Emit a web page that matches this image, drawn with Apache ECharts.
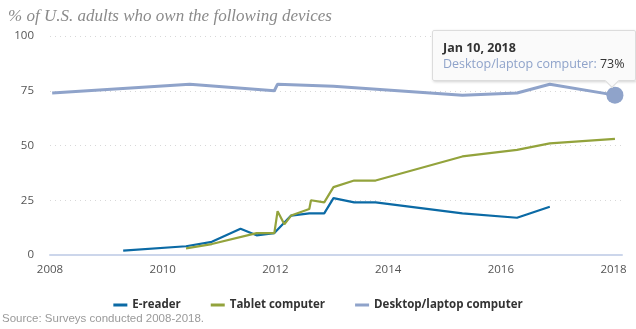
<!DOCTYPE html>
<html>
<head>
<meta charset="utf-8">
<script src="https://cdn.jsdelivr.net/npm/echarts@6/dist/echarts.min.js"></script>
<style>
html,body{margin:0;padding:0;background:#fff;}
#chart{width:636px;height:329px;}
</style>
</head>
<body>
<div id="chart"></div>
<script>
const titleText = '% of U.S. adults who own the following devices';
const sourceText = 'Source: Surveys conducted 2008-2018.';
const seriesNames = ['E-reader', 'Tablet computer', 'Desktop/laptop computer'];
const yTicks = [0, 25, 50, 75, 100];
const xTickYears = [2008, 2010, 2012, 2014, 2016, 2018];

const ereaderDates = ['2009-04-20','2010-06-01','2010-11-15','2011-05-20','2011-09-01','2011-12-25','2012-04-12','2012-08-08','2012-11-13','2013-01-12','2013-05-26','2013-10-12','2015-04-27','2016-04-15','2016-11-14'];
const ereaderValues = [2, 4, 6, 12, 9, 10, 18, 19, 19, 26, 24, 24, 19, 17, 22];

const tabletDates = ['2010-06-01','2010-11-15','2011-09-01','2011-12-25','2012-01-15','2012-02-28','2012-04-12','2012-08-08','2012-08-19','2012-11-13','2013-01-12','2013-05-26','2013-10-12','2015-04-27','2016-04-15','2016-11-14','2018-01-10'];
const tabletValues = [3, 5, 10, 10, 20, 14, 18, 21, 25, 24, 31, 34, 34, 45, 48, 51, 53];

const desktopDates = ['2008-01-15','2010-06-25','2011-12-25','2012-01-15','2013-01-12','2015-04-27','2016-04-15','2016-11-14','2018-01-10'];
const desktopValues = [74, 78, 75, 78, 77, 73, 74, 78, 73];

const colors = ['#0b6aa5', '#93a33c', '#8fa3ca'];

function decYear(s){
  const d = new Date(s + 'T00:00:00Z');
  const y = d.getUTCFullYear();
  const start = Date.UTC(y,0,1), end = Date.UTC(y+1,0,1);
  return y + (d.getTime()-start)/(end-start);
}
const monthNames = ['Jan','Feb','Mar','Apr','May','Jun','Jul','Aug','Sep','Oct','Nov','Dec'];
function fmtDate(s){
  const d = new Date(s + 'T00:00:00Z');
  return monthNames[d.getUTCMonth()] + ' ' + d.getUTCDate() + ', ' + d.getUTCFullYear();
}
function build(dates, values, markLast){
  return dates.map((d,i)=>{
    const item = {value:[decYear(d), values[i]], date:d};
    if(markLast && i === dates.length-1){
      item.symbol = 'circle';
      item.symbolSize = 17;
      item.itemStyle = {color: colors[2], opacity: 1};
    }
    return item;
  });
}

const chart = echarts.init(document.getElementById('chart'), null, {renderer:'canvas'});
const font = '"Open Sans", "DejaVu Sans", sans-serif';
const option = {
  animation: false,
  color: colors,
  title: {
    text: titleText,
    left: 3, top: 3,
    textStyle: {fontFamily: '"Liberation Serif", "DejaVu Serif", serif', fontStyle: 'italic', fontWeight: 'normal', fontSize: 17, color: '#8a8a8a'}
  },
  graphic: [{
    type: 'text', left: 2, top: 313,
    style: {text: sourceText, fill: '#9a9a9a', font: '11.5px "Liberation Sans", Arial, sans-serif'}
  }],
  legend: {
    data: seriesNames,
    left: 'center', top: 294,
    itemWidth: 14, itemHeight: 3, itemGap: 30,
    icon: 'rect',
    textStyle: {fontFamily: font, fontWeight: 'bold', fontSize: 11.5, color: '#333'}
  },
  grid: {left: 50, right: 14, top: 36, bottom: 74},
  xAxis: {
    type: 'value', min: 2008, max: 2018.15, interval: 2,
    axisLine: {show: true, lineStyle: {color: '#ccd6eb', width: 2}},
    axisTick: {show: false},
    splitLine: {show: false},
    axisLabel: {
      color: '#555', fontFamily: font, fontSize: 11.5, margin: 9,
      showMaxLabel: false,
      formatter: v => xTickYears.indexOf(Math.round(v*1000)/1000) >= 0 ? String(v) : ''
    }
  },
  yAxis: {
    type: 'value', min: 0, max: 100, interval: 25,
    axisLine: {show: false}, axisTick: {show: false},
    axisLabel: {color: '#555', fontFamily: font, fontSize: 11.5, margin: 16,
      formatter: v => yTicks.indexOf(v) >= 0 ? String(v) : ''},
    splitLine: {lineStyle: {color: '#d8d8d8', type: [1, 4], width: 1}}
  },
  tooltip: {
    trigger: 'item',
    triggerOn: 'none',
    alwaysShowContent: true,
    backgroundColor: 'rgba(250,250,250,0.97)',
    borderColor: '#dcdcdc',
    borderWidth: 1,
    padding: [9, 10, 8, 10],
    extraCssText: 'box-shadow:1px 1px 3px rgba(0,0,0,0.18);border-radius:2px;overflow:visible;',
    position: function(){ return [432, 30]; },
    formatter: function(p){
      const arrow = '<div style="position:absolute;right:18px;bottom:-6px;width:9px;height:9px;background:rgba(250,250,250,1);border-right:1px solid #dcdcdc;border-bottom:1px solid #dcdcdc;transform:rotate(45deg);"></div>';
      return '<div style="font-family:' + font.replace(/"/g,"'") + ';font-size:12.5px;line-height:16px;color:#333;">' +
        '<div style="font-weight:bold;">' + fmtDate(p.data.date) + '</div>' +
        '<div><span style="color:' + p.color + '">' + p.seriesName + ':</span> ' + p.value[1] + '%</div>' +
        '</div>' + arrow;
    }
  },
  series: [
    {name: seriesNames[0], type: 'line', data: build(ereaderDates, ereaderValues, false), symbol: 'none', lineStyle: {width: 2.2, color: colors[0]}, itemStyle:{color: colors[0]}, emphasis:{disabled:true}, z: 2},
    {name: seriesNames[1], type: 'line', data: build(tabletDates, tabletValues, false), symbol: 'none', lineStyle: {width: 2.2, color: colors[1]}, itemStyle:{color: colors[1]}, emphasis:{disabled:true}, z: 3},
    {name: seriesNames[2], type: 'line', data: build(desktopDates, desktopValues, true), symbol: 'none', lineStyle: {width: 3, color: colors[2]}, itemStyle:{color: colors[2]}, emphasis:{disabled:true}, z: 4}
  ]
};
chart.setOption(option);
chart.dispatchAction({type: 'showTip', seriesIndex: 2, dataIndex: desktopDates.length - 1});
</script>
</body>
</html>
